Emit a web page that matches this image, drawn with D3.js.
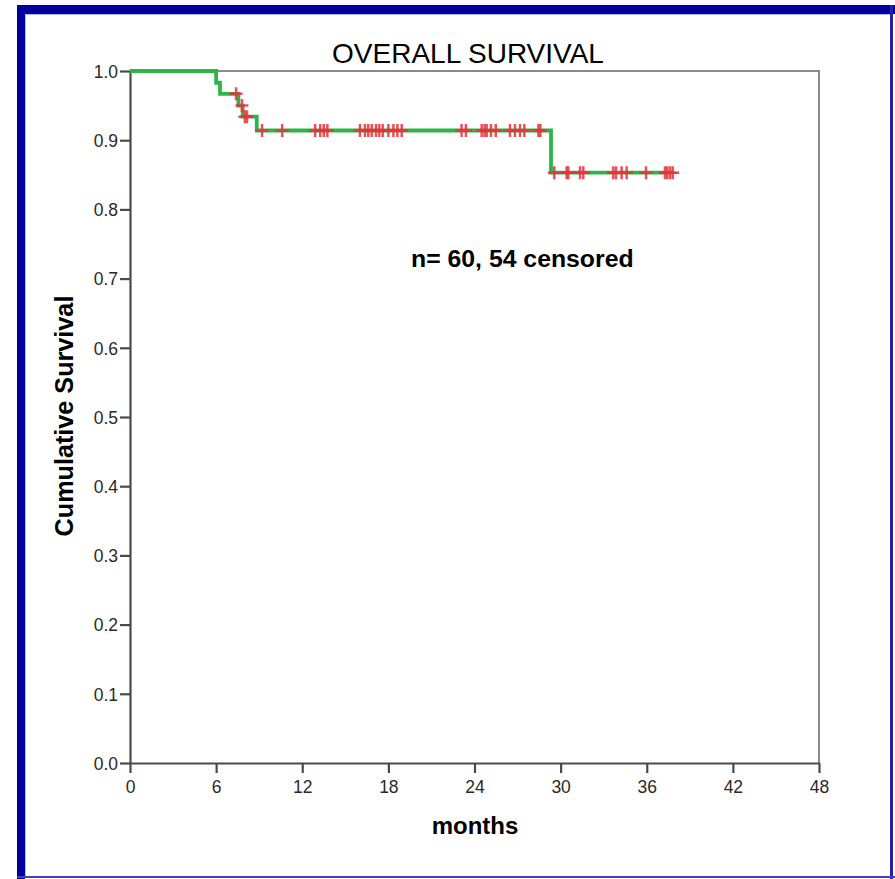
<!DOCTYPE html>
<html>
<head>
<meta charset="utf-8">
<script src="https://cdn.jsdelivr.net/npm/d3@7"></script>
<style>
  html, body { margin: 0; padding: 0; background: #fff; }
  svg { display: block; }
  text { font-family: "Liberation Sans", Arial, sans-serif; }
</style>
</head>
<body>
<svg id="chart" width="895" height="879"></svg>
<script>
// Kaplan-Meier overall survival, months of follow-up
const eventMonths   = [6.0, 6.27, 7.55, 7.85, 8.83, 29.33];
const survivalAfter = [0.983, 0.967, 0.950, 0.934, 0.914, 0.853];
const censorMonths = [
  7.39,
  7.8,
  8.0, 8.15,
  9.2, 10.6, 12.9, 13.25, 13.5, 13.75,
  16.02, 16.37, 16.6, 16.84, 17.14, 17.37, 17.61, 18.0, 18.35, 18.63, 18.93,
  23.1, 23.4, 24.5, 24.7, 24.85, 25.15, 25.48, 26.47, 26.82, 27.17, 27.47, 28.45, 28.59,
  29.56, 30.42, 30.54, 31.35, 31.58, 33.67, 33.86, 34.25, 34.6, 35.95,
  37.27, 37.43, 37.62, 37.81
];
const xTicks = [0, 6, 12, 18, 24, 30, 36, 42, 48];
const yTicks = [0, 0.1, 0.2, 0.3, 0.4, 0.5, 0.6, 0.7, 0.8, 0.9, 1.0];
const titleText = "OVERALL SURVIVAL";
const xLabel = "months";
const yLabel = "Cumulative Survival";
const noteText = "n= 60, 54 censored";

const svg = d3.select("#chart");

// window frame
const frameColor = "#0000a0";
svg.append("rect").attr("x", 17).attr("y", 5).attr("width", 878).attr("height", 9).attr("fill", frameColor);
svg.append("rect").attr("x", 17).attr("y", 5).attr("width", 8).attr("height", 874).attr("fill", frameColor);
svg.append("rect").attr("x", 890).attr("y", 5).attr("width", 3).attr("height", 874).attr("fill", "#2020b0");
svg.append("rect").attr("x", 17).attr("y", 876).attr("width", 878).attr("height", 2).attr("fill", "#4040c0");
svg.append("line").attr("x1", 25).attr("x2", 890).attr("y1", 14.5).attr("y2", 14.5)
  .attr("stroke", "#b8b8e8").attr("stroke-width", 1);
svg.append("line").attr("x1", 25.5).attr("x2", 25.5).attr("y1", 14).attr("y2", 876)
  .attr("stroke", "#b8b8e8").attr("stroke-width", 1);

const x = d3.scaleLinear().domain([0, 48]).range([130, 819]);
const y = d3.scaleLinear().domain([0, 1]).range([763, 71]);

// plot box: lighter top and right edges
svg.append("path")
  .attr("d", `M${x(0)},${y(1)}H${x(48)}V${y(0)}`)
  .attr("fill", "none").attr("stroke", "#8a8a8a").attr("stroke-width", 2);

// axes
const xAxis = svg.append("g").attr("transform", `translate(0,${y(0)})`)
  .call(d3.axisBottom(x).tickValues(xTicks).tickFormat(d3.format("d")).tickSize(10).tickPadding(6).tickSizeOuter(0));
const yAxis = svg.append("g").attr("transform", `translate(${x(0)},0)`)
  .call(d3.axisLeft(y).tickValues(yTicks).tickFormat(d3.format(".1f")).tickSize(10).tickPadding(2).tickSizeOuter(0));

[xAxis, yAxis].forEach(g => {
  g.select(".domain").attr("stroke", "#4a4a4a").attr("stroke-width", 2.2);
  g.selectAll(".tick line").attr("stroke", "#4a4a4a").attr("stroke-width", 2.2);
  g.selectAll(".tick text")
    .attr("fill", "#2a2a2a")
    .style("font-family", "'Liberation Sans', Arial, sans-serif")
    .style("font-size", "17.5px");
});
xAxis.selectAll(".tick text").attr("dy", "0.78em");
yAxis.selectAll(".tick text").attr("dy", "0.36em");

// survival step curve
function survivalAt(t) {
  let s = 1;
  eventMonths.forEach((m, i) => { if (m <= t) s = survivalAfter[i]; });
  return s;
}
const lastTime = d3.max(censorMonths);
const pts = [[0, 1]];
eventMonths.forEach((m, i) => { pts.push([m, survivalAfter[i]]); });
pts.push([lastTime, survivalAt(lastTime)]);

const line = d3.line()
  .x(d => x(d[0]))
  .y(d => y(d[1]))
  .curve(d3.curveStepAfter);

svg.append("path")
  .datum(pts)
  .attr("d", line)
  .attr("fill", "none")
  .attr("stroke", "#2db54a")
  .attr("stroke-width", 3.8);

// censor ticks
const arm = 6.5;
svg.append("g")
  .selectAll("path")
  .data(censorMonths)
  .join("path")
  .attr("d", t => {
    const cx = x(t), cy = y(survivalAt(t));
    return `M${cx - arm},${cy}H${cx + arm}M${cx},${cy - arm}V${cy + arm}`;
  })
  .attr("stroke", "#ec2f3c")
  .attr("stroke-opacity", 0.85)
  .attr("stroke-width", 2.5);

// text
svg.append("text")
  .attr("x", 468).attr("y", 63)
  .attr("text-anchor", "middle")
  .style("font-size", "28px")
  .attr("fill", "#000")
  .text(titleText);

svg.append("text")
  .attr("x", 411).attr("y", 267)
  .style("font-size", "24.8px").style("font-weight", "bold")
  .attr("fill", "#000")
  .text(noteText);

svg.append("text")
  .attr("x", 475).attr("y", 834)
  .attr("text-anchor", "middle")
  .style("font-size", "24px").style("font-weight", "bold")
  .text(xLabel);

svg.append("text")
  .attr("transform", `translate(73,416) rotate(-90)`)
  .attr("text-anchor", "middle")
  .style("font-size", "25.2px").style("font-weight", "bold")
  .text(yLabel);
</script>
</body>
</html>
